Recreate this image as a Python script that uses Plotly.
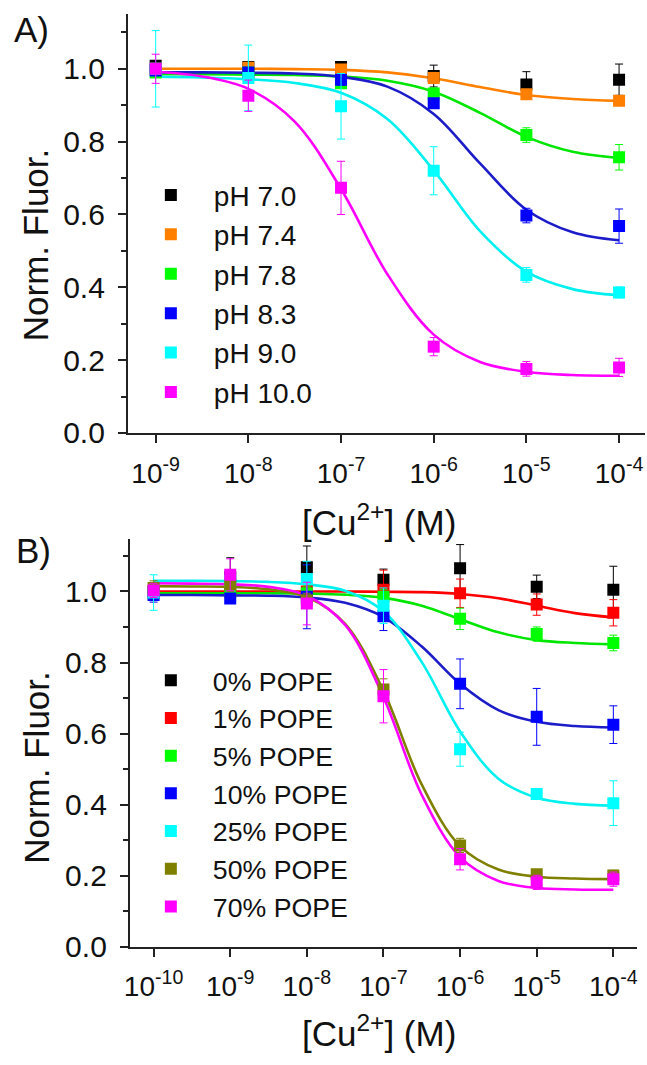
import math
import plotly.graph_objects as go

# ---------------- Panel A data ----------------
conc_A = [1e-9, 1e-8, 1e-7, 1e-6, 1e-5, 1e-4]
labels_A = ["pH 7.0", "pH 7.4", "pH 7.8", "pH 8.3", "pH 9.0", "pH 10.0"]
colors_A = ["#000000", "#ff8000", "#00ff00", "#0000ff", "#00ffff", "#ff00ff"]
ph70 = [1.008, 1.005, 1.005, 0.980, 0.957, 0.970]
ph74 = [1.000, 1.003, 0.998, 0.975, 0.930, 0.912]
ph78 = [0.990, 0.990, 0.960, 0.932, 0.818, 0.757]
ph83 = [0.995, 0.990, 0.970, 0.905, 0.597, 0.568]
ph90 = [1.000, 0.975, 0.897, 0.720, 0.434, 0.386]
ph100 = [1.000, 0.926, 0.673, 0.237, 0.176, 0.180]
err70 = [0.010, 0.015, 0.010, 0.030, 0.035, 0.043]
err74 = [0.010, 0.010, 0.010, 0.015, 0.012, 0.010]
err78 = [0.010, 0.010, 0.012, 0.015, 0.020, 0.035]
err83 = [0.010, 0.010, 0.015, 0.012, 0.020, 0.047]
err90 = [0.105, 0.090, 0.090, 0.066, 0.020, 0.015]
err100 = [0.040, 0.043, 0.073, 0.025, 0.020, 0.025]

# fitted curves of panel A, read every half decade (exponents)
curve_exp_A = [-9, -8.5, -8, -7.5, -7, -6.5, -6, -5.5, -5, -4.5, -4]
fit74 = [1.000, 1.000, 1.000, 0.999, 0.997, 0.990, 0.974, 0.950, 0.928, 0.917, 0.912]
fit78 = [0.985, 0.985, 0.984, 0.983, 0.979, 0.967, 0.937, 0.879, 0.813, 0.772, 0.755]
fit83 = [0.990, 0.990, 0.989, 0.987, 0.978, 0.951, 0.876, 0.740, 0.613, 0.551, 0.529]
fit90 = [0.978, 0.976, 0.971, 0.961, 0.934, 0.862, 0.721, 0.554, 0.443, 0.395, 0.378]
fit100 = [0.992, 0.979, 0.945, 0.855, 0.670, 0.436, 0.270, 0.195, 0.168, 0.159, 0.157]
fits_A = [None, fit74, fit78, fit83, fit90, fit100]
fit_colors_A = ["#000000", "#ff8000", "#00e600", "#1c1cc8", "#00f0f0", "#ff00ff"]

# ---------------- Panel B data ----------------
conc_B = [1e-10, 1e-9, 1e-8, 1e-7, 1e-6, 1e-5, 1e-4]
labels_B = ["0% POPE", "1% POPE", "5% POPE", "10% POPE", "25% POPE", "50% POPE", "70% POPE"]
colors_B = ["#000000", "#ff0000", "#00ff00", "#0000ff", "#00ffff", "#808000", "#ff00ff"]
pope0 = [1.000, 1.040, 1.068, 1.033, 1.065, 1.013, 1.005]
pope1 = [1.000, 1.000, 1.000, 1.005, 0.995, 0.963, 0.940]
pope5 = [0.995, 1.000, 0.995, 0.985, 0.923, 0.880, 0.855]
pope10 = [0.990, 0.980, 0.985, 0.930, 0.740, 0.647, 0.625]
pope25 = [0.997, 1.030, 1.035, 0.960, 0.556, 0.430, 0.404]
pope50 = [1.010, 1.020, 0.975, 0.724, 0.285, 0.204, 0.200]
pope70 = [1.003, 1.047, 0.966, 0.705, 0.246, 0.181, 0.190]
perr0 = [0.020, 0.055, 0.060, 0.030, 0.067, 0.033, 0.066]
perr1 = [0.020, 0.020, 0.020, 0.055, 0.040, 0.030, 0.037]
perr5 = [0.020, 0.020, 0.020, 0.020, 0.030, 0.020, 0.022]
perr10 = [0.020, 0.010, 0.090, 0.040, 0.070, 0.080, 0.053]
perr25 = [0.050, 0.030, 0.050, 0.050, 0.048, 0.010, 0.063]
perr50 = [0.020, 0.020, 0.020, 0.030, 0.020, 0.010, 0.015]
perr70 = [0.020, 0.045, 0.060, 0.075, 0.030, 0.020, 0.020]

curve_exp_B = [-10, -9.5, -9, -8.5, -8, -7.5, -7, -6.5, -6, -5.5, -5, -4.5, -4]
fitp1 = [1.000, 1.000, 1.000, 1.000, 1.000, 1.000, 0.999, 0.998, 0.993, 0.981, 0.960, 0.939, 0.927]
fitp5 = [0.995, 0.995, 0.995, 0.995, 0.994, 0.991, 0.982, 0.960, 0.922, 0.885, 0.863, 0.855, 0.851]
fitp10 = [0.990, 0.990, 0.989, 0.988, 0.983, 0.968, 0.928, 0.845, 0.740, 0.666, 0.633, 0.621, 0.617]
fitp25 = [1.030, 1.030, 1.029, 1.027, 1.020, 1.002, 0.944, 0.801, 0.606, 0.473, 0.419, 0.402, 0.397]
fitp50 = [1.015, 1.014, 1.013, 1.006, 0.984, 0.909, 0.720, 0.456, 0.283, 0.217, 0.197, 0.192, 0.190]
fitp70 = [1.023, 1.022, 1.020, 1.013, 0.988, 0.906, 0.702, 0.427, 0.252, 0.185, 0.165, 0.161, 0.160]
fits_B = [None, fitp1, fitp5, fitp10, fitp25, fitp50, fitp70]
fit_colors_B = ["#000000", "#ff0000", "#00e600", "#1c1cc8", "#00f0f0", "#808000", "#ff00ff"]

values_A = [ph70, ph74, ph78, ph83, ph90, ph100]
errors_A = [err70, err74, err78, err83, err90, err100]
values_B = [pope0, pope1, pope5, pope10, pope25, pope50, pope70]
errors_B = [perr0, perr1, perr5, perr10, perr25, perr50, perr70]

FONT = "Liberation Sans, Arial, sans-serif"
W, H = 647, 1065   # design size; the figure fills the browser window

fig = go.Figure()

# curves first (under the markers)
for fit, col in zip(fits_A, fit_colors_A):
    if fit is None:
        continue
    fig.add_trace(go.Scatter(x=[10 ** e for e in curve_exp_A], y=fit, mode="lines",
                             line=dict(color=col, width=2.6, shape="spline", smoothing=1.0),
                             showlegend=False, hoverinfo="skip", xaxis="x", yaxis="y"))
for fit, col in zip(fits_B, fit_colors_B):
    if fit is None:
        continue
    fig.add_trace(go.Scatter(x=[10 ** e for e in curve_exp_B], y=fit, mode="lines",
                             line=dict(color=col, width=2.6, shape="spline", smoothing=1.0),
                             showlegend=False, hoverinfo="skip", xaxis="x2", yaxis="y2"))

for lab, col, vals, errs in zip(labels_A, colors_A, values_A, errors_A):
    fig.add_trace(go.Scatter(x=conc_A, y=vals, mode="markers", name=lab,
                             marker=dict(symbol="square", size=12, color=col, line=dict(width=0)),
                             error_y=dict(type="data", array=errs, color=col, thickness=1, width=4),
                             xaxis="x", yaxis="y", legend="legend"))
for lab, col, vals, errs in zip(labels_B, colors_B, values_B, errors_B):
    fig.add_trace(go.Scatter(x=conc_B, y=vals, mode="markers", name=lab,
                             marker=dict(symbol="square", size=12, color=col, line=dict(width=0)),
                             error_y=dict(type="data", array=errs, color=col, thickness=1, width=4),
                             xaxis="x2", yaxis="y2", legend="legend2"))


def xax(domain, rng, vals, anchor):
    return dict(type="log", domain=domain, range=rng, anchor=anchor,
                tickvals=vals, ticktext=["10<sup>%d</sup>" % round(math.log10(v)) for v in vals],
                ticks="outside", ticklen=8, tickwidth=2, tickcolor="#222",
                showline=True, linecolor="#222", linewidth=2, mirror=False,
                showgrid=False, zeroline=False, ticklabeloverflow="allow",
                tickfont=dict(family=FONT, size=28, color="#111"), ticklabelstandoff=6)


def yax(domain, rng, anchor):
    return dict(domain=domain, range=rng, anchor=anchor,
                tickmode="array", tickvals=[0, 0.2, 0.4, 0.6, 0.8, 1.0],
                ticktext=["0.0", "0.2", "0.4", "0.6", "0.8", "1.0"],
                ticks="outside", ticklen=8, tickwidth=2, tickcolor="#222",
                minor=dict(tickmode="array", tickvals=[0.1, 0.3, 0.5, 0.7, 0.9, 1.1],
                           ticks="outside", ticklen=5, tickwidth=2, tickcolor="#222", showgrid=False),
                showline=True, linecolor="#222", linewidth=2, mirror=False,
                showgrid=False, zeroline=False,
                tickfont=dict(family=FONT, size=30, color="#111"), ticklabelstandoff=7)


fig.update_layout(
    autosize=True, margin=dict(l=0, r=0, t=0, b=0, pad=0),
    paper_bgcolor="white", plot_bgcolor="white",
    font=dict(family=FONT, color="#111"),
    xaxis=xax([123 / W, 645 / W], [-9.3, -3.72], conc_A, "y"),
    yaxis=yax([1 - 440 / H, 1 - 14 / H], [0, 1.151], "x"),
    xaxis2=xax([125 / W, 637 / W], [-10.31, -3.69], conc_B, "y2"),
    yaxis2=yax([1 - 962 / H, 1 - 548 / H], [0, 1.147], "x2"),
    legend=dict(x=123 / W, y=1 - 173 / H, xanchor="left", yanchor="top",
                font=dict(family=FONT, size=28, color="#111"), bgcolor="rgba(0,0,0,0)",
                itemwidth=76, tracegroupgap=0),
    legend2=dict(x=124 / W, y=1 - 667 / H, xanchor="left", yanchor="top",
                 font=dict(family=FONT, size=26.7, color="#111"), bgcolor="rgba(0,0,0,0)",
                 itemwidth=74, tracegroupgap=0),
    showlegend=True,
)

ann = dict(showarrow=False, xref="paper", yref="paper", font=dict(family=FONT, size=35, color="#111"))
fig.add_annotation(text="Norm. Fluor.", x=30 / W, y=1 - 248.5 / H, textangle=-90,
                   xanchor="center", yanchor="middle", **ann)
fig.add_annotation(text="Norm. Fluor.", x=30 / W, y=1 - 779.5 / H, textangle=-90,
                   xanchor="center", yanchor="middle", **ann)
fig.add_annotation(text="[Cu<sup>2+</sup>] (M)", x=376.5 / W, y=1 - 528.5 / H,
                   xanchor="center", yanchor="middle", **ann)
fig.add_annotation(text="[Cu<sup>2+</sup>] (M)", x=376 / W, y=1 - 1048 / H,
                   xanchor="center", yanchor="middle", **ann)
fig.add_annotation(text="A)", x=26 / W, y=1 - 30 / H, xanchor="center", yanchor="middle", **ann)
fig.add_annotation(text="B)", x=28 / W, y=1 - 559 / H, xanchor="center", yanchor="middle", **ann)

page_fix = (
    "document.documentElement.style.margin='0';"
    "document.documentElement.style.overflow='hidden';"
    "document.body.style.margin='0';"
    "document.body.style.overflow='hidden';"
    "var gd=document.getElementById('{plot_id}');"
    "gd.style.position='fixed';gd.style.left='0px';gd.style.top='0px';"
)
fig.write_html("out.html", config={"displayModeBar": False, "responsive": True},
               default_width="100vw", default_height="100vh", post_script=page_fix)
